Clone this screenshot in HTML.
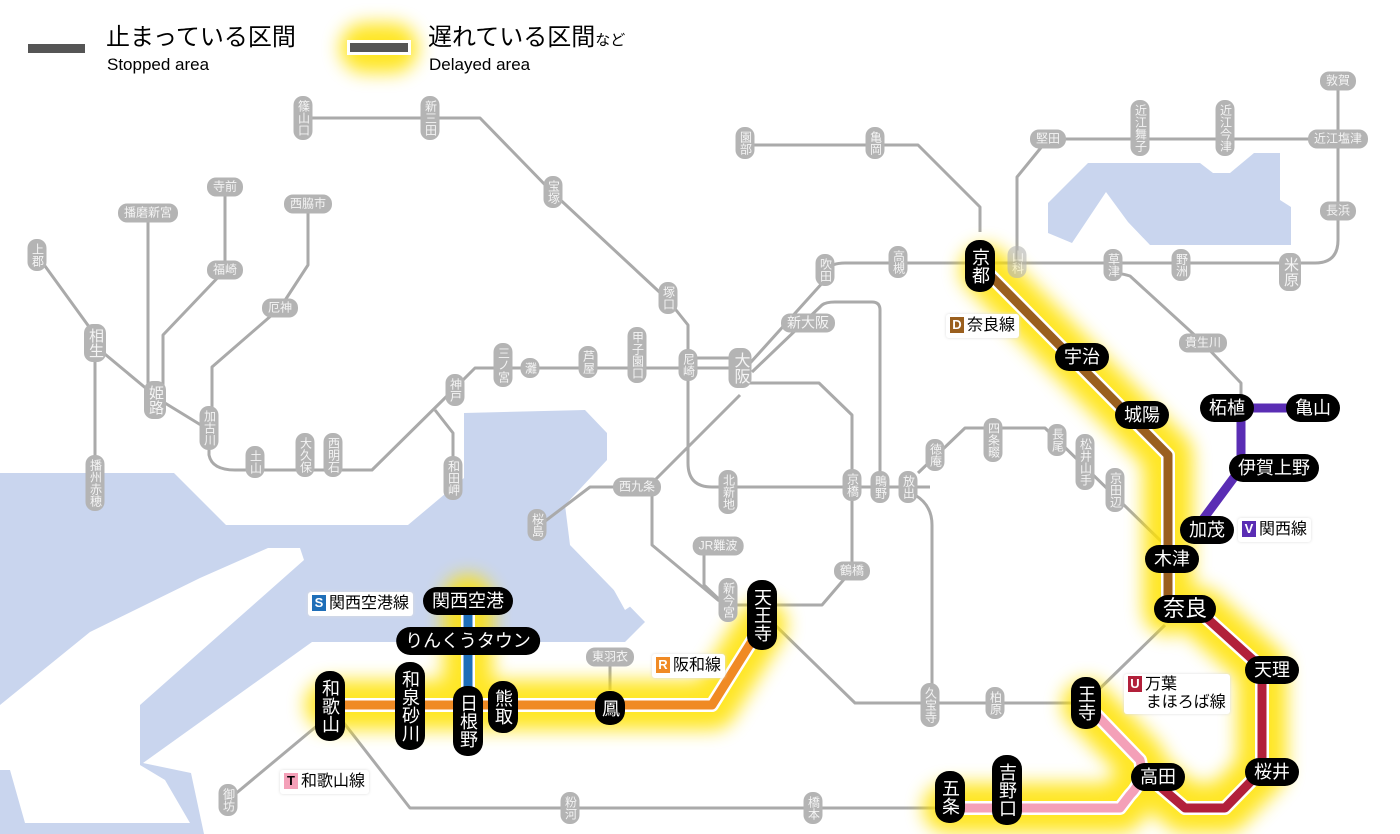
<!DOCTYPE html>
<html><head><meta charset="utf-8"><style>
html,body{margin:0;padding:0;background:#fff;}
#w{position:relative;width:1400px;height:834px;overflow:hidden;font-family:"Liberation Sans","Noto Sans CJK JP",sans-serif;}
svg{position:absolute;left:0;top:0;}
.s{position:absolute;transform:translate(-50%,-50%);white-space:nowrap;}
.g{background:#b4b4b4;color:#f4f4f4;font-size:12px;line-height:13px;border-radius:9px;}
.v{writing-mode:vertical-rl;text-orientation:upright;padding:4px 3px;}
.h{padding:3px 6px;}
.b{background:#000;color:#fff;font-size:18px;line-height:20px;border-radius:14px;}
.b.v{padding:8px 5px;}
.b.h{padding:4px 9px;}
.lab{position:absolute;background:#fff;font-size:16px;line-height:20px;padding:2px 4px;border-radius:3px;box-shadow:0 0 3px #ddd;white-space:nowrap;}
.bd{display:inline-block;color:#fff;font-size:13px;font-weight:bold;width:14px;height:16px;line-height:16px;text-align:center;margin-right:3px;vertical-align:1px;}
</style></head><body><div id="w">
<svg width="1400" height="834" viewBox="0 0 1400 834">
<defs><filter id="gl" x="-20%" y="-20%" width="140%" height="140%"><feGaussianBlur stdDeviation="9"/></filter></defs>
<g fill="#c9d5ee">
<polygon points="0,473 174,473 226,525 408,525 464,478 464,413 585,410 607,433 607,460 565,505 570,545 645,622 625,642 312,642 143,763 191,773 204,834 0,834"/>
<polygon points="1088,163 1200,163 1213,173 1230,173 1254,153 1280,153 1280,200 1291,207 1291,245 1150,245 1128,222 1106,192 1072,243 1048,233 1048,203"/>
</g>
<polygon fill="#fff" points="304,560 300,548 268,548 200,578 90,632 0,705 0,770 10,770 25,823 190,823 165,780 140,765 140,705"/>
<polygon fill="#fff" points="575,520 600,515 640,600 625,610"/>
<g fill="none" stroke="#aaa" stroke-width="3" stroke-linejoin="round">
<path d="M303,118 H480 L553,193 L668,300 L688,325 V463 Q688,487 712,487 H930"/>
<path d="M915,495 Q932,505 932,525 V703"/>
<path d="M37,255 L95,335 M95,345 V490 M100,350 L160,400 L209,430 V455 Q212,470 235,470 H372 L448,395 L475,368 H740 M688,358 H740"/>
<path d="M435,410 L453,433 V478"/>
<path d="M148,213 V400 M225,187 V270 L163,335 V400 M308,204 V265 L280,308 L212,367 V430"/>
<path d="M742,372 L825,280 M825,270 Q832,263 845,263 H1315 Q1338,263 1338,240 V80"/>
<path d="M752,372 L822,305 Q826,302 835,302 H872 Q880,302 880,310 V487"/>
<path d="M740,383 H819 L852,415 V570 L822,605 H760 M740,395 L652,483 V545 L718,600 L728,605 H760"/>
<path d="M637,487 H590 L540,525 M704,555 V585 L725,605"/>
<path d="M775,625 L855,703 H1085 L1165,625"/>
<path d="M1113,275 Q1118,272 1130,276 L1200,340 L1241,383 V408"/>
<path d="M1017,263 V177 L1048,139 H1338 M745,145 H918 L980,207 V232"/>
<path d="M918,473 L965,428 H1045 L1165,545"/>
<path d="M330,705 L410,808 H948 M330,715 L228,800 M610,657 V690"/>
</g>
<g fill="none" stroke="#ffe200" stroke-width="50" stroke-linejoin="round" stroke-linecap="round" filter="url(#gl)" opacity="0.85">
<path d="M762,625 L712,705 H330"/>
<path d="M468,600 V690"/>
<path d="M985,270 L1168,455 V610"/>
<path d="M1200,612 L1262,668 V770 L1225,808 H1185 L1150,778"/>
<path d="M1087,705 L1140,760 Q1145,780 1130,795 L1120,808 H948"/>
<path d="M365,48 H393"/>
</g>
<g fill="none" stroke="#fff" stroke-width="14" stroke-linejoin="round">
<path d="M762,625 L712,705 H330"/>
<path d="M468,600 V690"/>
<path d="M985,270 L1168,455 V610"/>
<path d="M1200,612 L1262,668 V770 L1225,808 H1185 L1150,778"/>
<path d="M1087,705 L1140,760 Q1145,780 1130,795 L1120,808 H948"/>
</g>
<g fill="none" stroke-width="9" stroke-linejoin="round">
<path stroke="#f08a24" d="M762,625 L712,705 H330"/>
<path stroke="#1e6eb8" d="M468,600 V690"/>
<path stroke="#9a5f1e" d="M985,270 L1168,455 V610"/>
<path stroke="#b2203a" d="M1200,612 L1262,668 V770 L1225,808 H1185 L1150,778"/>
<path stroke="#f4a0b8" d="M1087,705 L1140,760 Q1145,780 1130,795 L1120,808 H948"/>
<path stroke="#5a2db4" d="M1227,408 H1313 M1241,408 V468 L1195,530"/>
</g>
<rect x="28" y="44" width="57" height="9" fill="#555"/>
<rect x="347" y="40" width="64" height="15" fill="#fff"/>
<rect x="350" y="43" width="58" height="9" fill="#555"/>
</svg>

<div style="position:absolute;left:106px;top:24px;font-size:24px;line-height:28px;">止まっている区間</div>
<div style="position:absolute;left:107px;top:55px;font-size:17px;">Stopped area</div>
<div style="position:absolute;left:428px;top:24px;font-size:24px;line-height:28px;">遅れている区間<span style="font-size:15px">など</span></div>
<div style="position:absolute;left:429px;top:55px;font-size:17px;">Delayed area</div>

<div class="s g v" style="left:303px;top:118px">篠山口</div>
<div class="s g v" style="left:430px;top:118px">新三田</div>
<div class="s g v" style="left:553px;top:192px">宝塚</div>
<div class="s g v" style="left:668px;top:298px">塚口</div>
<div class="s g v" style="left:688px;top:365px">尼崎</div>
<div class="s g v" style="left:637px;top:355px">甲子園口</div>
<div class="s g v" style="left:588px;top:362px">芦屋</div>
<div class="s g v" style="left:530px;top:368px">灘</div>
<div class="s g v" style="left:503px;top:365px">三ノ宮</div>
<div class="s g v" style="left:455px;top:390px">神戸</div>
<div class="s g v" style="left:453px;top:478px">和田岬</div>
<div class="s g v" style="left:333px;top:455px">西明石</div>
<div class="s g v" style="left:305px;top:455px">大久保</div>
<div class="s g v" style="left:255px;top:462px">土山</div>
<div class="s g v" style="left:209px;top:428px">加古川</div>
<div class="s g v" style="left:155px;top:400px;font-size:15px;line-height:16px">姫路</div>
<div class="s g v" style="left:95px;top:343px;font-size:15px;line-height:16px">相生</div>
<div class="s g v" style="left:37px;top:255px">上郡</div>
<div class="s g v" style="left:95px;top:483px">播州赤穂</div>
<div class="s g h" style="left:148px;top:213px">播磨新宮</div>
<div class="s g h" style="left:225px;top:187px">寺前</div>
<div class="s g h" style="left:225px;top:270px">福崎</div>
<div class="s g h" style="left:308px;top:204px">西脇市</div>
<div class="s g h" style="left:280px;top:308px">厄神</div>
<div class="s g v" style="left:745px;top:143px">園部</div>
<div class="s g v" style="left:875px;top:143px">亀岡</div>
<div class="s g v" style="left:825px;top:270px">吹田</div>
<div class="s g v" style="left:898px;top:262px">高槻</div>
<div class="s g v" style="left:1017px;top:262px;opacity:.6">山科</div>
<div class="s g h" style="left:1048px;top:139px">堅田</div>
<div class="s g v" style="left:1140px;top:128px">近江舞子</div>
<div class="s g v" style="left:1225px;top:128px">近江今津</div>
<div class="s g h" style="left:1338px;top:139px">近江塩津</div>
<div class="s g h" style="left:1338px;top:81px">敦賀</div>
<div class="s g h" style="left:1338px;top:211px">長浜</div>
<div class="s g v" style="left:1113px;top:265px">草津</div>
<div class="s g v" style="left:1181px;top:265px">野洲</div>
<div class="s g v" style="left:1290px;top:272px;font-size:15px;line-height:16px">米原</div>
<div class="s g h" style="left:1203px;top:343px">貴生川</div>
<div class="s g h" style="left:808px;top:323px;font-size:14px">新大阪</div>
<div class="s g v" style="left:740px;top:368px;font-size:16px;line-height:17px">大阪</div>
<div class="s g h" style="left:637px;top:487px">西九条</div>
<div class="s g v" style="left:537px;top:525px">桜島</div>
<div class="s g v" style="left:728px;top:492px">北新地</div>
<div class="s g v" style="left:852px;top:485px">京橋</div>
<div class="s g v" style="left:880px;top:487px">鴫野</div>
<div class="s g v" style="left:908px;top:487px">放出</div>
<div class="s g v" style="left:935px;top:455px">徳庵</div>
<div class="s g v" style="left:993px;top:440px">四条畷</div>
<div class="s g v" style="left:1057px;top:440px">長尾</div>
<div class="s g v" style="left:1085px;top:462px">松井山手</div>
<div class="s g v" style="left:1115px;top:490px">京田辺</div>
<div class="s g h" style="left:718px;top:546px">JR難波</div>
<div class="s g v" style="left:728px;top:600px">新今宮</div>
<div class="s g h" style="left:852px;top:571px">鶴橋</div>
<div class="s g h" style="left:610px;top:657px">東羽衣</div>
<div class="s g v" style="left:930px;top:705px">久宝寺</div>
<div class="s g v" style="left:995px;top:703px">柏原</div>
<div class="s g v" style="left:570px;top:808px">粉河</div>
<div class="s g v" style="left:813px;top:808px">橋本</div>
<div class="s g v" style="left:228px;top:800px">御坊</div>

<div class="s b v" style="left:980px;top:266px">京都</div>
<div class="s b v" style="left:762px;top:615px">天王寺</div>
<div class="s b v" style="left:330px;top:706px">和歌山</div>
<div class="s b v" style="left:410px;top:706px">和泉砂川</div>
<div class="s b v" style="left:468px;top:721px">日根野</div>
<div class="s b v" style="left:503px;top:707px">熊取</div>
<div class="s b v" style="left:610px;top:708px">鳳</div>
<div class="s b v" style="left:1086px;top:703px">王寺</div>
<div class="s b v" style="left:950px;top:797px">五条</div>
<div class="s b v" style="left:1007px;top:790px">吉野口</div>
<div class="s b h" style="left:1082px;top:357px">宇治</div>
<div class="s b h" style="left:1142px;top:415px">城陽</div>
<div class="s b h" style="left:1172px;top:559px">木津</div>
<div class="s b h" style="left:1185px;top:609px;font-size:22px">奈良</div>
<div class="s b h" style="left:1272px;top:670px">天理</div>
<div class="s b h" style="left:1272px;top:772px">桜井</div>
<div class="s b h" style="left:1158px;top:777px">高田</div>
<div class="s b h" style="left:1227px;top:408px">柘植</div>
<div class="s b h" style="left:1313px;top:408px">亀山</div>
<div class="s b h" style="left:1274px;top:468px">伊賀上野</div>
<div class="s b h" style="left:1207px;top:530px">加茂</div>
<div class="s b h" style="left:468px;top:601px">関西空港</div>
<div class="s b h" style="left:468px;top:641px">りんくうタウン</div>

<div class="lab" style="left:946px;top:314px"><span class="bd" style="background:#9a5f1e">D</span>奈良線</div>
<div class="lab" style="left:1238px;top:518px"><span class="bd" style="background:#5a2db4">V</span>関西線</div>
<div class="lab" style="left:1124px;top:674px;line-height:18px"><span class="bd" style="background:#b2203a">U</span>万葉<br>&nbsp;&nbsp;&nbsp;&nbsp;まほろば線</div>
<div class="lab" style="left:308px;top:592px"><span class="bd" style="background:#1e6eb8">S</span>関西空港線</div>
<div class="lab" style="left:652px;top:654px"><span class="bd" style="background:#f08a24">R</span>阪和線</div>
<div class="lab" style="left:280px;top:770px"><span class="bd" style="background:#f4a0b8;color:#000">T</span>和歌山線</div>
</div></body></html>
